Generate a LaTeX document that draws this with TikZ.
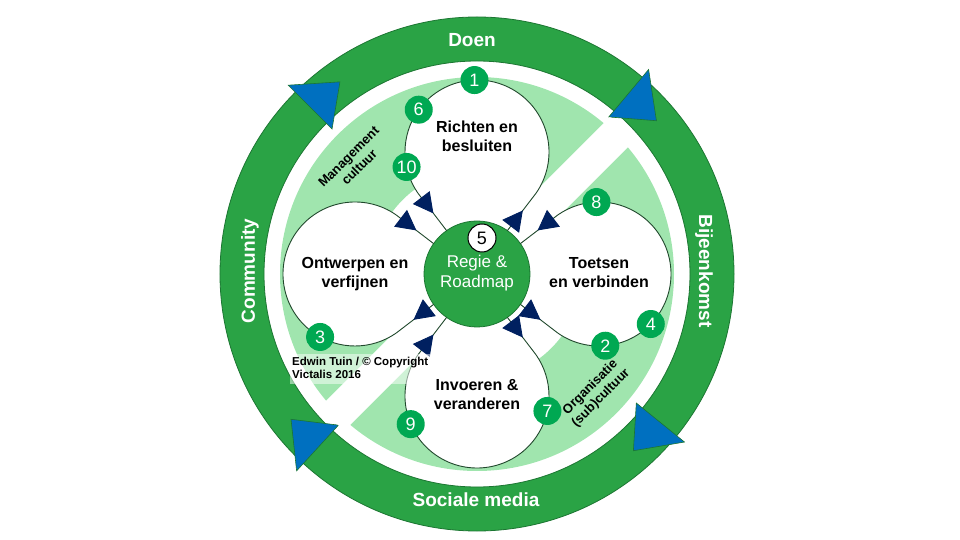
\documentclass[tikz,border=0pt]{standalone}
\usepackage{fontspec}
\setmainfont{Liberation Sans}
\usetikzlibrary{arrows.meta,positioning,decorations.markings}

\definecolor{ringgreen}{RGB}{42,163,69}
\definecolor{ringedge}{RGB}{28,118,50}
\definecolor{palegreen}{RGB}{160,229,174}
\definecolor{badgegreen}{RGB}{0,168,82}
\definecolor{arrowblue}{RGB}{0,112,192}
\definecolor{navy}{RGB}{0,32,96}
\definecolor{loopline}{RGB}{32,72,44}

\begin{document}
\begin{tikzpicture}[x=1pt,y=1pt]
  \tikzstyle{procblock}=[circle, fill=white, minimum size=144pt, inner sep=0pt, outer sep=0pt,
                         font=\bfseries\fontsize{16}{19}\selectfont]
  \tikzstyle{badge}=[circle, fill=badgegreen, text=white, minimum size=28pt, inner sep=0pt,
                     font=\fontsize{18}{18}\selectfont]
  \tikzstyle{ringlabel}=[text=white, font=\bfseries\fontsize{19}{19}\selectfont]
  \tikzstyle{culture}=[rotate=45, inner sep=0pt, font=\bfseries\fontsize{13}{15}\selectfont]
  \tikzstyle{looparc}=[draw=loopline, line width=0.9pt]
  \tikzstyle{flowline}=[looparc, postaction={decorate},
                        decoration={markings, mark=at position 0.54 with
                          {\arrow{Triangle[length=20pt,width=21pt,color=navy]}}}]
  \useasboundingbox (-477,-266) rectangle (483,274);

  % outer ring with the four blue heads
  \fill[ringgreen, even odd rule] (0,0) circle (257) (0,0) circle (213);
  \draw[ringedge, line width=0.8pt] (0,0) circle (257) (0,0) circle (213);
  \foreach \a in {135,50,-39,227.5}
    \filldraw[fill=arrowblue, draw=ringedge, line width=0.6pt]
      (\a:205) -- (\a:267) -- (\a-9.5:236) -- cycle;

  % pale band, cut by a white strip
  \fill[palegreen, even odd rule] (0,0) circle (197) (0,0) circle (105);
  \fill[white, rotate=45] (-205,-17) rectangle (205,17);

  \coordinate (mid) at (0,0);
  \node[procblock, above=50pt of mid] (richten) {};
  \node[procblock, right=50pt of mid] (toetsen) {\begin{tabular}{c}Toetsen\\
                                                                   en verbinden
                                                  \end{tabular}};
  \node[procblock, left=50pt of mid] (ontwerpen) {\begin{tabular}{c}Ontwerpen en\\
                                                                    verfijnen
                                                   \end{tabular}};
  \node[procblock, below=50pt of mid] (invoeren) {\begin{tabular}{c}Invoeren \&\\
                                                                    veranderen
                                                   \end{tabular}};
  \node[font=\bfseries\fontsize{16}{19}\selectfont, below=36pt of richten.north]
        (richtentext) {\begin{tabular}{c}Richten en\\
                                         besluiten
                       \end{tabular}};
  \draw[looparc] (richten.-35) arc[start angle=-35, end angle=215, radius=72];
  \draw[looparc] (toetsen.-125) arc[start angle=-125, end angle=125, radius=72];
  \draw[looparc] (ontwerpen.55) arc[start angle=55, end angle=305, radius=72];
  \draw[looparc] (invoeren.145) arc[start angle=145, end angle=395, radius=72];

  \node[circle, fill=ringgreen, draw=ringedge, line width=0.8pt, minimum size=106pt,
        inner sep=0pt, outer sep=0pt, text=white, font=\fontsize{17}{20}\selectfont]
        (hub) at (mid) {\begin{tabular}{c}Regie \&\\
                                           Roadmap
                        \end{tabular}};
  \draw[flowline] (hub.55) -- (richten.-35);
  \draw[flowline] (richten.215) -- (hub.125);
  \draw[flowline] (hub.-35) -- (toetsen.-125);
  \draw[flowline] (toetsen.125) -- (hub.35);
  \draw[flowline] (hub.215) -- (ontwerpen.305);
  \draw[flowline] (ontwerpen.55) -- (hub.145);
  \draw[flowline] (hub.305) -- (invoeren.35);
  \draw[flowline] (invoeren.145) -- (hub.235);

  % step numbers
  \node[badge] (n1) at (richten.92) {1};
  \node[badge] (n6) at (richten.144) {6};
  \node[badge] (n10) at (richten.192) {10};
  \node[badge] (n8) at (toetsen.92) {8};
  \node[badge] (n4) at (toetsen.-44) {4};
  \node[badge] (n2) at (toetsen.-85) {2};
  \node[badge] (n3) at (ontwerpen.241) {3};
  \node[badge] (n7) at (invoeren.-12) {7};
  \node[badge] (n9) at (invoeren.203) {9};
  \node[circle, fill=white, draw=black, line width=1pt, minimum size=28pt, inner sep=0pt,
        font=\fontsize{18}{18}\selectfont] (n5) at (5,36) {5};

  \node[ringlabel] (doen) at (-5,234) {Doen};
  \node[ringlabel, rotate=-90] (bijeenkomst) at (227,3) {Bijeenkomst};
  \node[ringlabel] (sociale) at (-1,-226) {Sociale media};
  \node[ringlabel, rotate=90] (community) at (-227,3) {Community};

  \node[culture] (management) at (-122,111) {\begin{tabular}{c}Management\\
                                                                 cultuur
                                               \end{tabular}};
  \node[culture] (organisatie) at (119,-119) {\begin{tabular}{c}Organisatie\\
                                                                 (sub)cultuur
                                                \end{tabular}};
  \node[anchor=north west, fill=white, fill opacity=0.5, text opacity=1, inner sep=2pt,
        font=\bfseries\fontsize{11.5}{13}\selectfont] (credit) at (-187,-80)
        {\begin{tabular}{@{}l@{}}Edwin Tuin / © Copyright\\
                                 Victalis 2016
         \end{tabular}};
\end{tikzpicture}
\end{document}
